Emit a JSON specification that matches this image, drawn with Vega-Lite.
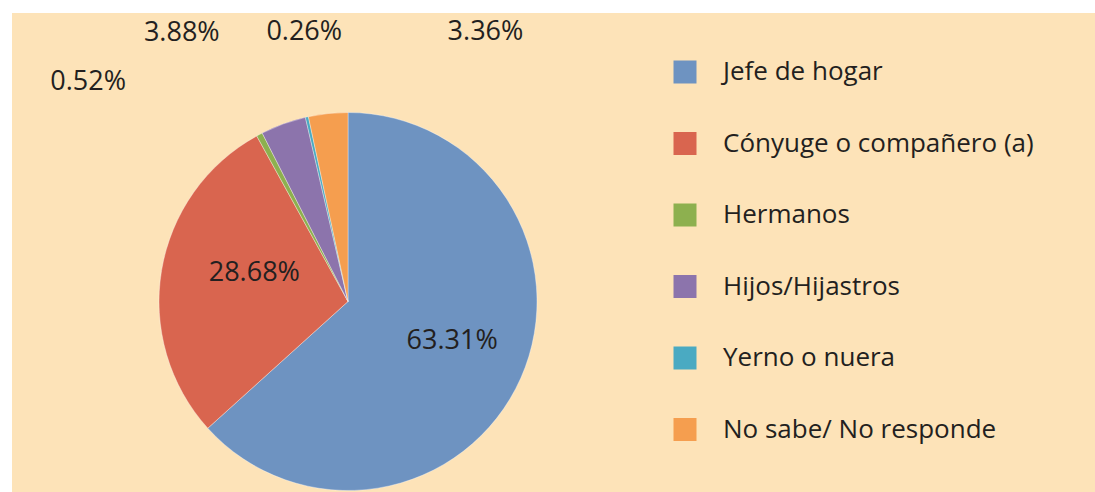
{
  "$schema": "https://vega.github.io/schema/vega-lite/v6.json",
  "background": "white",
  "padding": {"left": 12, "top": 13, "right": 0, "bottom": 0},
  "autosize": {"type": "pad"},
  "bounds": "flush",
  "spacing": 0,
  "config": {
    "view": {"fill": "#FDE3B8", "stroke": null},
    "concat": {"spacing": 0},
    "text": {"font": "Open Sans", "fontSize": 27, "color": "#231F20", "baseline": "middle", "align": "center"}
  },
  "datasets": {
    "parentesco": [
      {"cat": "Jefe de hogar", "share": 0.6331, "ord": 1},
      {"cat": "Cónyuge o compañero (a)", "share": 0.2868, "ord": 2},
      {"cat": "Hermanos", "share": 0.0052, "ord": 3},
      {"cat": "Hijos/Hijastros", "share": 0.0388, "ord": 4},
      {"cat": "Yerno o nuera", "share": 0.0026, "ord": 5},
      {"cat": "No sabe/ No responde", "share": 0.0336, "ord": 6}
    ]
  },
  "vconcat": [
    {
      "width": 1083,
      "height": 98,
      "view": {"fill": "#FDE3B8", "stroke": null},
      "data": {"values": [{}]},
      "mark": {"type": "text"},
      "encoding": {"text": {"value": ""}}
    },
    {
      "spacing": 0,
      "bounds": "flush",
      "hconcat": [
        {
          "width": 672,
          "height": 381,
          "view": {"fill": "#FDE3B8", "stroke": null},
          "data": {"name": "parentesco"},
          "encoding": {
            "theta": {"field": "share", "type": "quantitative", "stack": true},
            "order": {"field": "ord", "type": "quantitative"},
            "detail": {"field": "cat", "type": "nominal"}
          },
          "layer": [
            {
              "mark": {"type": "arc", "radius": 189, "stroke": "#ffffff", "strokeOpacity": 0.35, "strokeWidth": 1},
              "encoding": {
                "color": {
                  "field": "cat",
                  "type": "nominal",
                  "sort": null,
                  "scale": {
                    "domain": ["Jefe de hogar", "Cónyuge o compañero (a)", "Hermanos", "Hijos/Hijastros", "Yerno o nuera", "No sabe/ No responde"],
                    "range": ["#6E93C1", "#D9654F", "#8DB04F", "#8C74AC", "#4AAAC2", "#F59E4F"]
                  },
                  "legend": {
                    "title": null,
                    "orient": "none",
                    "legendX": 660,
                    "legendY": 46,
                    "symbolType": "square",
                    "symbolSize": 529,
                    "symbolStrokeWidth": 0,
                    "labelFont": "Open Sans",
                    "labelFontSize": 26,
                    "labelColor": "#231F20",
                    "labelOffset": 25,
                    "labelLimit": 400,
                    "rowPadding": 45.5,
                    "padding": 0
                  }
                }
              }
            },
            {
              "mark": {"type": "text", "radius": 114, "dy": -7},
              "encoding": {
                "text": {"condition": {"test": "datum.cat === 'Jefe de hogar'", "field": "share", "type": "quantitative", "format": ".2%"}, "value": ""}
              }
            },
            {
              "mark": {"type": "text", "radius": 95, "dy": -13},
              "encoding": {
                "text": {"condition": {"test": "datum.cat === 'Cónyuge o compañero (a)'", "field": "share", "type": "quantitative", "format": ".2%"}, "value": ""}
              }
            },
            {
              "mark": {"type": "text", "radius": 100, "dx": -213, "dy": -131},
              "encoding": {
                "text": {"condition": {"test": "datum.cat === 'Hermanos'", "field": "share", "type": "quantitative", "format": ".2%"}, "value": ""}
              }
            },
            {
              "mark": {"type": "text", "radius": 100, "dx": -132, "dy": -175},
              "encoding": {
                "text": {"condition": {"test": "datum.cat === 'Hijos/Hijastros'", "field": "share", "type": "quantitative", "format": ".2%"}, "value": ""}
              }
            },
            {
              "mark": {"type": "text", "radius": 100, "dx": -22, "dy": -172},
              "encoding": {
                "text": {"condition": {"test": "datum.cat === 'Yerno o nuera'", "field": "share", "type": "quantitative", "format": ".2%"}, "value": ""}
              }
            },
            {
              "mark": {"type": "text", "radius": 100, "dx": 148, "dy": -170},
              "encoding": {
                "text": {"condition": {"test": "datum.cat === 'No sabe/ No responde'", "field": "share", "type": "quantitative", "format": ".2%"}, "value": ""}
              }
            }
          ]
        },
        {
          "width": 411,
          "height": 381,
          "view": {"fill": "#FDE3B8", "stroke": null},
          "data": {"values": [{}]},
          "mark": {"type": "text"},
          "encoding": {"text": {"value": ""}}
        }
      ]
    }
  ]
}
